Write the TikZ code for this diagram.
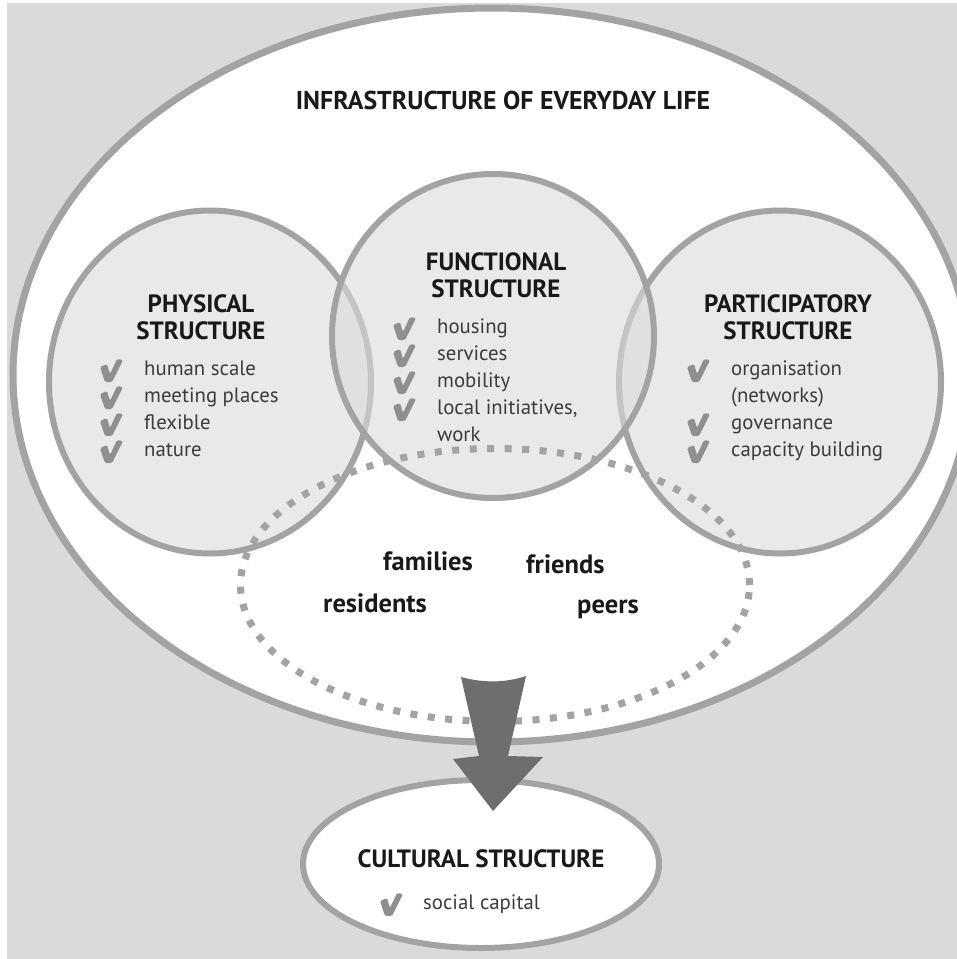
\documentclass[tikz,border=0pt]{standalone}
\usepackage{fontspec}
\setmainfont{PT Sans}
\usetikzlibrary{shapes.geometric}
\definecolor{bggray}{gray}{0.855}
\definecolor{rimgray}{gray}{0.64}
\definecolor{ringfill}{gray}{0.86}
\definecolor{tickgray}{gray}{0.56}
\definecolor{arrowgray}{gray}{0.43}
\definecolor{inkgray}{gray}{0.1}

\begin{document}
\begin{tikzpicture}[x=1pt, y=-1pt,
  oval/.style={ellipse, draw=rimgray, line width=6pt, inner sep=0pt},
  ring/.style={oval, fill=ringfill, fill opacity=0.6},
  head/.style={font=\bfseries\fontsize{25}{27}\selectfont, text=inkgray, align=center},
  items/.style={font=\fontsize{20.8}{27}\selectfont, text=inkgray!85, anchor=base west, inner sep=0pt},
  member/.style={font=\bfseries\fontsize{26.5}{26.5}\selectfont, text=inkgray, anchor=base west, inner sep=0pt},
  tickmark/.pic={
    \fill[tickgray, rounded corners=1.5pt] (0,-8) -- (7,-11) -- (10,-1) -- (17,-16)
      -- (23,-15) -- (12,7) -- (5,7) -- cycle;
  }
]
  \useasboundingbox (0,0) rectangle (957,959);
  \fill[bggray] (7,3) rectangle (957,959);

  % Infrastructure of everyday life
  \node[oval, line width=7pt, fill=white, minimum width=958, minimum height=734] (infra) at (492,375) {};
  \node[head, font=\bfseries\fontsize{25.8}{27}\selectfont] (infratitle) at (503,100) {INFRASTRUCTURE OF EVERYDAY LIFE};

  % Die drei Strukturen
  \node[ring, minimum width=322, minimum height=343] (physical) at (210,382) {};
  \node[ring, minimum width=322, minimum height=343] (participatory) at (780,382) {};
  \node[ring, minimum width=322, minimum height=324] (functional) at (493,336) {};

  % Gemeinschaft (gepunktet)
  \node[oval, line width=7pt, dash pattern=on 7pt off 10.5pt, minimum width=509, minimum height=273] (community) at (495,585) {};

  \node[head] (physhead) at (201,317) {PHYSICAL\\STRUCTURE};
  \node[items] (physlist) at (144,375) {\begin{tabular}[t]{@{}l@{}}
    human scale\\ meeting places\\ flexible\\ nature
  \end{tabular}};
  \foreach \r in {0,...,3}
    \pic at (100,375+27*\r) {tickmark};

  \node[head] (funchead) at (496,275) {FUNCTIONAL\\STRUCTURE};
  \node[items] (funclist) at (437,333) {\begin{tabular}[t]{@{}l@{}}
    housing\\ services\\ mobility\\ local initiatives,\\ work
  \end{tabular}};
  \foreach \r in {0,...,3}
    \pic at (393,333+27*\r) {tickmark};

  \node[head] (parthead) at (788,317) {PARTICIPATORY\\STRUCTURE};
  \node[items] (partlist) at (731,375) {\begin{tabular}[t]{@{}l@{}}
    organisation\\ (networks)\\ governance\\ capacity building
  \end{tabular}};
  \foreach \r in {0,2,3}
    \pic at (687,375+27*\r) {tickmark};

  \node[member] (families) at (383,570) {families};
  \node[member] (friends) at (526,573) {friends};
  \node[member] (residents) at (323,612) {residents};
  \node[member] (peers) at (577,613) {peers};

  % Kulturelle Struktur
  \node[oval, fill=white, minimum width=356, minimum height=168] (cultural) at (481,864) {};
  \node[head] (culthead) at (481,859) {CULTURAL STRUCTURE};
  \node[items] (cultlist) at (423,909) {social capital};
  \pic at (380,909) {tickmark};

  % Pfeil
  \begin{scope}[shift={(community.south)}]
    \fill[arrowgray] (-34,-48) .. controls (-12,-42) and (10,-42) .. (31,-49)
      -- (13,31) -- (48,32) -- (-2,86) -- (-42,34) -- (-16,31) -- cycle;
  \end{scope}
\end{tikzpicture}
\end{document}
